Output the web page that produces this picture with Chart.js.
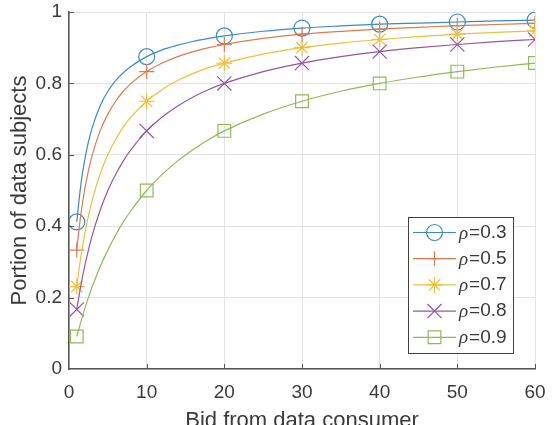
<!DOCTYPE html>
<html>
<head>
<meta charset="utf-8">
<script src="https://cdn.jsdelivr.net/npm/chart.js@4"></script>
<style>
  html,body{margin:0;padding:0;background:#fff;}
  #c{display:block;}
</style>
</head>
<body>
<canvas id="c" width="556" height="425"></canvas>
<script>
// ---- data ----
const xTicks = [0, 10, 20, 30, 40, 50, 60];
const yTicks = [0, 0.2, 0.4, 0.6, 0.8, 1];
const bids = [1, 10, 20, 30, 40, 50, 60];            // bids carrying a marker
const curveX = [1, 1.5, 2, 2.5, 3, 4, 5, 6, 7, 8, 10, 12, 14, 16, 18, 20, 25, 30, 35, 40, 45, 50, 55, 60];
const rhoLabels = ['0.3', '0.5', '0.7', '0.8', '0.9'];
const rho03 = [0.412, 0.512, 0.583, 0.636, 0.677, 0.737, 0.778, 0.808, 0.830, 0.848, 0.875, 0.894, 0.907, 0.918, 0.926, 0.933, 0.946, 0.955, 0.961, 0.966, 0.969, 0.972, 0.975, 0.977];
const rho05 = [0.333, 0.429, 0.500, 0.556, 0.600, 0.667, 0.714, 0.750, 0.778, 0.800, 0.833, 0.857, 0.875, 0.889, 0.900, 0.909, 0.926, 0.938, 0.946, 0.952, 0.957, 0.962, 0.965, 0.968];
const rho07 = [0.231, 0.311, 0.375, 0.429, 0.474, 0.546, 0.600, 0.643, 0.678, 0.706, 0.750, 0.783, 0.808, 0.828, 0.844, 0.857, 0.882, 0.900, 0.913, 0.923, 0.931, 0.938, 0.943, 0.947];
const rho08 = [0.167, 0.231, 0.286, 0.333, 0.375, 0.444, 0.500, 0.545, 0.583, 0.615, 0.667, 0.706, 0.737, 0.762, 0.783, 0.800, 0.833, 0.857, 0.875, 0.889, 0.900, 0.909, 0.917, 0.923];
const rho09 = [0.091, 0.130, 0.167, 0.200, 0.231, 0.286, 0.333, 0.375, 0.412, 0.444, 0.500, 0.545, 0.583, 0.615, 0.643, 0.667, 0.714, 0.750, 0.778, 0.800, 0.818, 0.833, 0.846, 0.857];

// ---- styles ----
const seriesValues = [rho03, rho05, rho07, rho08, rho09];
const colors = ['#3a8bc4', '#df7a4e', '#efbf3a', '#9556a3', '#8fbb55'];
const styles = ['circle', 'cross', 'star', 'crossRot', 'rect'];
const radii = [8, 7.5, 8, 10, 9];
const TEXT = '#3a3a3a';
const SANS = '"Liberation Sans", Arial, sans-serif';

const datasets = seriesValues.map((vals, i) => ({
  label: 'ρ=' + rhoLabels[i],
  data: curveX.map((x, j) => ({x: x, y: vals[j]})),
  borderColor: colors[i],
  borderWidth: 1.2,
  cubicInterpolationMode: 'monotone',
  pointStyle: styles[i],
  pointRadius: ctx => (ctx.raw && bids.includes(ctx.raw.x)) ? radii[i] : 0,
  pointHoverRadius: ctx => (ctx.raw && bids.includes(ctx.raw.x)) ? radii[i] : 0,
  pointBorderColor: colors[i],
  pointBackgroundColor: 'rgba(0,0,0,0)',
  pointBorderWidth: 1.2,
  fill: false,
  order: 5 - i
}));

function drawMarker(ctx, style, x, y, r) {
  ctx.beginPath();
  if (style === 'circle') {
    ctx.arc(x, y, r, 0, Math.PI * 2);
  } else if (style === 'cross') {
    ctx.moveTo(x - r, y); ctx.lineTo(x + r, y);
    ctx.moveTo(x, y - r); ctx.lineTo(x, y + r);
  } else if (style === 'star') {
    const d = r * Math.SQRT1_2;
    ctx.moveTo(x - r, y); ctx.lineTo(x + r, y);
    ctx.moveTo(x, y - r); ctx.lineTo(x, y + r);
    ctx.moveTo(x - d, y - d); ctx.lineTo(x + d, y + d);
    ctx.moveTo(x - d, y + d); ctx.lineTo(x + d, y - d);
  } else if (style === 'crossRot') {
    const d = r * Math.SQRT1_2;
    ctx.moveTo(x - d, y - d); ctx.lineTo(x + d, y + d);
    ctx.moveTo(x - d, y + d); ctx.lineTo(x + d, y - d);
  } else if (style === 'rect') {
    const d = r * Math.SQRT1_2;
    ctx.rect(x - d, y - d, 2 * d, 2 * d);
  }
  ctx.stroke();
}

const innerTicks = {
  id: 'innerTicks',
  afterDatasetsDraw(chart) {
    const {ctx, chartArea: a, scales} = chart;
    ctx.save();
    ctx.strokeStyle = '#555';
    ctx.lineWidth = 1;
    yTicks.forEach(v => {
      if (v === 0) return;
      const py = Math.round(scales.y.getPixelForValue(v)) + 0.5;
      ctx.beginPath(); ctx.moveTo(a.left, py); ctx.lineTo(a.left + 5, py); ctx.stroke();
    });
    xTicks.forEach(v => {
      if (v === 0) return;
      const px = Math.round(scales.x.getPixelForValue(v)) + 0.5;
      ctx.beginPath(); ctx.moveTo(px, a.bottom); ctx.lineTo(px, a.bottom - 5); ctx.stroke();
    });
    ctx.restore();
  }
};

const matlabLegend = {
  id: 'matlabLegend',
  afterDraw(chart) {
    const ctx = chart.ctx;
    const bx = 408, by = 217, bw = 105, bh = 136;
    ctx.save();
    ctx.fillStyle = '#ffffff';
    ctx.fillRect(bx, by, bw, bh);
    ctx.strokeStyle = '#404040';
    ctx.lineWidth = 1;
    ctx.strokeRect(bx + 0.5, by + 0.5, bw, bh);
    chart.data.datasets.forEach((ds, i) => {
      const y = by + 15.5 + i * 26.2;
      ctx.strokeStyle = colors[i];
      ctx.lineWidth = 1.2;
      ctx.beginPath(); ctx.moveTo(bx + 5, y); ctx.lineTo(bx + 48, y); ctx.stroke();
      drawMarker(ctx, styles[i], bx + 26.5, y, radii[i]);
      ctx.fillStyle = TEXT;
      ctx.textBaseline = 'middle';
      ctx.textAlign = 'left';
      ctx.font = 'italic 19px "Liberation Serif", serif';
      const tx = bx + 51;
      ctx.fillText('ρ', tx, y + 1);
      const w = ctx.measureText('ρ').width;
      ctx.font = '19px ' + SANS;
      ctx.fillText('=' + rhoLabels[i], tx + w + 1, y);
    });
    ctx.restore();
  }
};

new Chart(document.getElementById('c'), {
  type: 'line',
  data: {datasets: datasets},
  options: {
    responsive: false,
    animation: false,
    events: [],
    layout: {padding: {top: 12, right: 21, left: 0, bottom: 0}},
    plugins: {legend: {display: false}, tooltip: {enabled: false}},
    scales: {
      x: {
        type: 'linear', min: 0, max: 60,
        afterBuildTicks: s => { s.ticks = xTicks.map(v => ({value: v})); },
        afterFit: s => { s.height = 56; s.paddingRight = 0; s.paddingLeft = 0; },
        grid: {color: '#e3e3e3', lineWidth: 1, drawTicks: false},
        border: {color: '#555', width: 1.5},
        ticks: {color: TEXT, font: {family: SANS, size: 19}, padding: 12, maxRotation: 0,
                callback: v => String(v)},
        title: {display: true, text: 'Bid from data consumer', color: TEXT,
                font: {family: SANS, size: 22}, padding: {top: 0, bottom: -9}}
      },
      y: {
        type: 'linear', min: 0, max: 1,
        afterBuildTicks: s => { s.ticks = yTicks.map(v => ({value: v})); },
        afterFit: s => { s.width = 69; s.paddingTop = 0; s.paddingBottom = 0; },
        grid: {color: '#e3e3e3', lineWidth: 1, drawTicks: false},
        border: {color: '#555', width: 1.5},
        ticks: {color: TEXT, font: {family: SANS, size: 19}, padding: 7,
                callback: v => String(v)},
        title: {display: true, text: 'Portion of data subjects', color: TEXT,
                font: {family: SANS, size: 22}, padding: {top: 7, bottom: 0}}
      }
    }
  },
  plugins: [innerTicks, matlabLegend]
});
</script>
</body>
</html>
